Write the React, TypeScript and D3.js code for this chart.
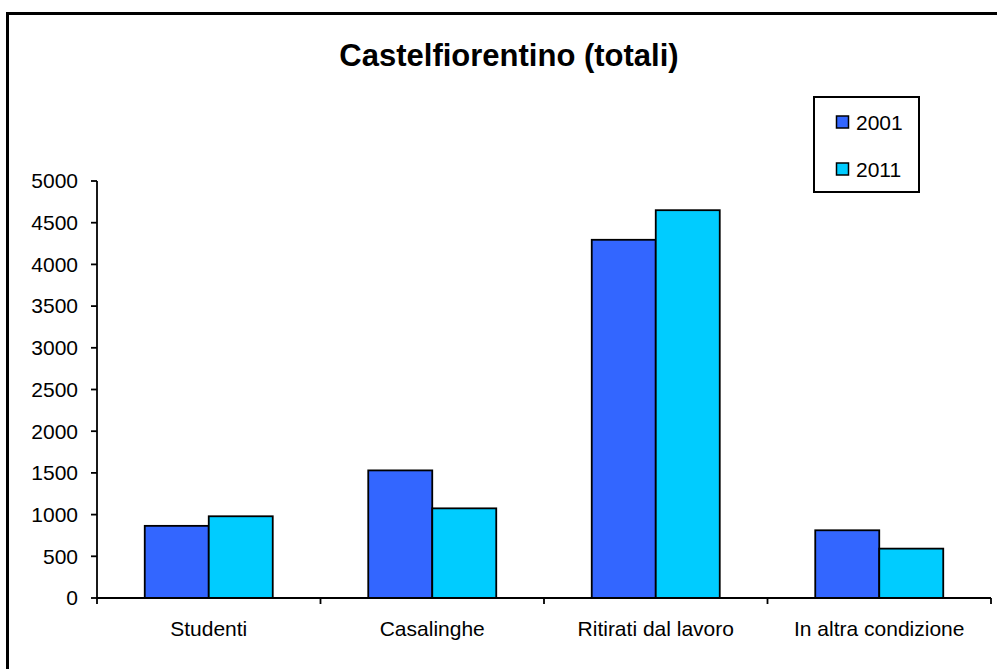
import React from "react";
import * as d3 from "d3";

const categories = ["Studenti", "Casalinghe", "Ritirati dal lavoro", "In altra condizione"];
const seriesNames = ["2001", "2011"];
const values2001 = [865, 1530, 4295, 812];
const values2011 = [980, 1075, 4650, 592];
const yTicks = [0, 500, 1000, 1500, 2000, 2500, 3000, 3500, 4000, 4500, 5000];
const colors = ["#3366FF", "#00CCFF"];
const title = "Castelfiorentino (totali)";

const W = 997;
const H = 669;
const left = 97;
const right = 991;
const top = 181;
const bottom = 598;

export default function App() {
  const x = d3.scaleBand<string>().domain(categories).range([left, right]).paddingInner(0).paddingOuter(0);
  const y = d3.scaleLinear().domain([0, 5000]).range([bottom, top]);
  const series = [values2001, values2011];
  const barW = 64;
  const font = "Liberation Sans, Arial, sans-serif";
  const catTicks = [...categories.map((c) => x(c) as number), right];

  return (
    <svg width={W} height={H} style={{ position: "absolute", left: 0, top: 0 }} fontFamily={font}>
      <rect x={0} y={0} width={W} height={H} fill="#fff" />
      <path d={`M7.5,${H + 5} V13.5 H${W + 5}`} fill="none" stroke="#000" strokeWidth={3} />
      <text x={509} y={66} textAnchor="middle" fontWeight="bold" fontSize={31}>{title}</text>

      {series.map((vals, si) =>
        vals.map((v, i) => {
          const cx = (x(categories[i]) as number) + x.bandwidth() / 2;
          const x0 = cx - barW + si * barW;
          return (
            <rect key={`${si}-${i}`} x={x0} y={y(v)} width={barW} height={bottom - y(v)}
              fill={colors[si]} stroke="#000" strokeWidth={1.8} />
          );
        })
      )}

      <line x1={left} x2={left} y1={top} y2={bottom} stroke="#000" strokeWidth={1.8} />
      <line x1={left} x2={right} y1={bottom} y2={bottom} stroke="#000" strokeWidth={1.8} />
      {yTicks.map((t) => (
        <g key={t}>
          <line x1={left - 6} x2={left} y1={y(t)} y2={y(t)} stroke="#000" strokeWidth={1.8} />
          <text x={78} y={y(t)} dy="0.35em" textAnchor="end" fontSize={21}>{t}</text>
        </g>
      ))}
      {catTicks.map((t, i) => (
        <line key={i} x1={t} x2={t} y1={bottom} y2={bottom + 6} stroke="#000" strokeWidth={1.8} />
      ))}
      {categories.map((c) => (
        <text key={c} x={(x(c) as number) + x.bandwidth() / 2} y={636} textAnchor="middle" fontSize={21}>{c}</text>
      ))}

      <rect x={814} y={97} width={105} height={95} fill="#fff" stroke="#000" strokeWidth={2} />
      {seriesNames.map((s, i) => (
        <g key={s}>
          <rect x={836.5} y={116 + i * 47} width={12} height={12} fill={colors[i]} stroke="#000" strokeWidth={1.5} />
          <text x={856} y={129.5 + i * 47} fontSize={21}>{s}</text>
        </g>
      ))}
    </svg>
  );
}
